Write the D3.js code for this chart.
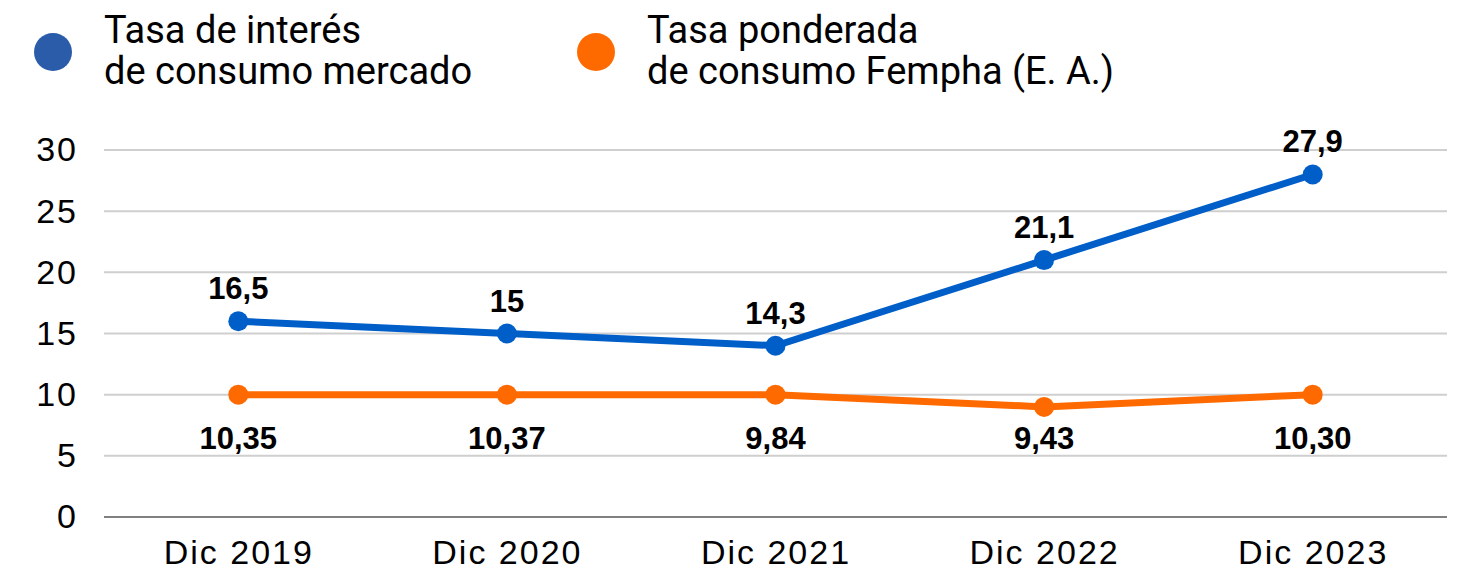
<!DOCTYPE html>
<html>
<head>
<meta charset="utf-8">
<script src="https://cdn.jsdelivr.net/npm/d3@7"></script>
<style>
  body { margin: 0; background: #fff; }
  svg { display: block; }
</style>
</head>
<body>
<svg width="1472" height="570"></svg>
<script>
var categories = ["Dic 2019", "Dic 2020", "Dic 2021", "Dic 2022", "Dic 2023"];
var mercadoValues = [16, 15, 14, 21, 28];
var mercadoLabels = ["16,5", "15", "14,3", "21,1", "27,9"];
var femphaValues = [10, 10, 10, 9, 10];
var femphaLabels = ["10,35", "10,37", "9,84", "9,43", "10,30"];
var yTicks = [0, 5, 10, 15, 20, 25, 30];
var seriesNames = [["Tasa de interés", "de consumo mercado"], ["Tasa ponderada", "de consumo Fempha (E. A.)"]];

var svg = d3.select("svg"),
    margin = {top: 150, right: 25, bottom: 53, left: 104},
    width = +svg.attr("width") - margin.left - margin.right,
    height = +svg.attr("height") - margin.top - margin.bottom;

var x = d3.scalePoint()
          .domain(categories)
          .range([0, width])
          .padding(0.5);

var y = d3.scaleLinear()
          .domain([0, 30])
          .range([height, 0]);

var g = svg.append("g")
           .attr("transform", "translate(" + margin.left + "," + margin.top + ")");

// grid lines
g.selectAll(".grid")
  .data(yTicks)
  .enter().append("line")
    .attr("x1", 0)
    .attr("x2", width)
    .attr("y1", function(d) { return y(d); })
    .attr("y2", function(d) { return y(d); })
    .attr("stroke", function(d) { return d === 0 ? "#808080" : "#cfcfcf"; })
    .attr("stroke-width", 2);

var yAxis = g.append("g")
    .call(d3.axisLeft(y).tickValues(yTicks).tickSize(0).tickPadding(26));
yAxis.select(".domain").remove();
yAxis.selectAll("text")
    .attr("font-family", "Liberation Sans")
    .attr("font-size", 34)
    .attr("letter-spacing", 2)
    .attr("fill", "#000");

var xAxis = g.append("g")
    .attr("transform", "translate(0," + height + ")")
    .call(d3.axisBottom(x).tickSize(0).tickPadding(23));
xAxis.select(".domain").remove();
xAxis.selectAll("text")
    .attr("font-family", "Liberation Sans")
    .attr("font-size", 34)
    .attr("letter-spacing", 2)
    .attr("fill", "#000");

var line = d3.line()
    .x(function(d, i) { return x(categories[i]); })
    .y(function(d) { return y(d); });

var series = [
  {values: mercadoValues, labels: mercadoLabels, color: "#005ec8",
   labelY: function(d) { return y(d) - 22; }},
  {values: femphaValues, labels: femphaLabels, color: "#ff6a00",
   labelY: function() { return y(d3.max(femphaValues)) + 54; }}
];

series.forEach(function(s) {
  g.append("path")
    .datum(s.values)
    .attr("fill", "none")
    .attr("stroke", s.color)
    .attr("stroke-width", 7)
    .attr("d", line);

  g.selectAll(null)
    .data(s.values)
    .enter().append("circle")
      .attr("cx", function(d, i) { return x(categories[i]); })
      .attr("cy", function(d) { return y(d); })
      .attr("r", 10)
      .attr("fill", s.color);

  g.selectAll(null)
    .data(s.values)
    .enter().append("text")
      .attr("x", function(d, i) { return x(categories[i]); })
      .attr("y", s.labelY)
      .attr("text-anchor", "middle")
      .attr("font-family", "Liberation Sans")
      .attr("font-weight", "bold")
      .attr("font-size", 31)
      .attr("fill", "#000")
      .text(function(d, i) { return s.labels[i]; });
});

// legend
var legendColors = ["#2a5caa", "#ff6a00"];
var legendX = [53, 596];
seriesNames.forEach(function(name, i) {
  svg.append("circle")
    .attr("cx", legendX[i])
    .attr("cy", 52)
    .attr("r", 19)
    .attr("fill", legendColors[i]);

  var t = svg.append("text")
    .attr("x", legendX[i] + 51)
    .attr("y", 43)
    .attr("font-family", "Roboto")
    .attr("font-size", 38)
    .attr("fill", "#000");
  name.forEach(function(line, j) {
    t.append("tspan")
      .attr("x", legendX[i] + 51)
      .attr("dy", j === 0 ? 0 : 41)
      .text(line);
  });
});
</script>
</body>
</html>
